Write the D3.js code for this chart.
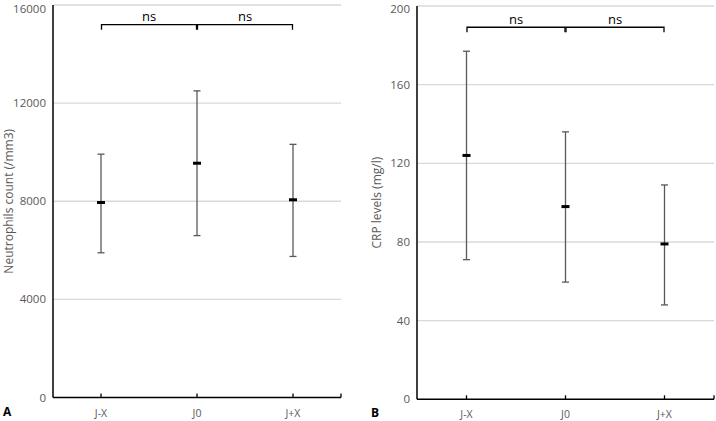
<!doctype html>
<html>
<head>
<meta charset="utf-8">
<script src="https://cdn.jsdelivr.net/npm/d3@7"></script>
<style>
  body { margin: 0; background: #fff; }
  svg { display: block; font-family: "Open Sans", sans-serif; }
  .grid line { stroke: #d9d9d9; stroke-width: 1.3; }
  .tick-label { fill: #595959; font-size: 11.5px; }
  .cat-label { fill: #595959; font-size: 10.5px; }
  .axis-title { fill: #595959; font-size: 12px; }
</style>
</head>
<body>
<svg id="chart" width="716" height="421"></svg>
<script>
  var categories = ['J-X', 'J0', 'J+X'];

  var neutroMean = [7950, 9550, 8060];
  var neutroLow = [5900, 6600, 5750];
  var neutroHigh = [9920, 12500, 10320];
  var neutroTicks = [0, 4000, 8000, 12000, 16000];

  var crpMean = [124, 98, 79];
  var crpLow = [71, 59.6, 48];
  var crpHigh = [177, 136, 109];
  var crpTicks = [0, 40, 80, 120, 160, 200];

  // significance brackets: pairs of category indices and label
  var brackets = [[0, 1, 'ns'], [1, 2, 'ns']];

  var svg = d3.select('#chart');

  function panel(opts) {
    var g = svg.append('g');
    var x = d3.scaleBand().domain(categories).range([opts.x0, opts.x1]);
    var y = d3.scaleLinear().domain([0, opts.ticks[opts.ticks.length - 1]]).range([opts.y0, opts.y1]);

    // gridlines
    g.append('g').attr('class', 'grid').selectAll('line')
      .data(opts.ticks.slice(1)).enter().append('line')
      .attr('x1', opts.x0).attr('x2', opts.x1)
      .attr('y1', function (d) { return y(d); }).attr('y2', function (d) { return y(d); });

    // tick labels (top one nudged down so it is not clipped)
    g.selectAll('text.tick-label').data(opts.ticks).enter().append('text')
      .attr('class', 'tick-label')
      .attr('x', opts.x0 - 7)
      .attr('y', function (d) { return Math.max(y(d), 8.5); })
      .attr('dy', '0.35em')
      .attr('text-anchor', 'end')
      .text(function (d) { return d; });

    // axes
    g.append('line').attr('x1', opts.x0).attr('x2', opts.x0)
      .attr('y1', y.range()[1]).attr('y2', opts.y0)
      .attr('stroke', '#000').attr('stroke-width', 1.5);
    g.append('line').attr('x1', opts.x0).attr('x2', opts.x1)
      .attr('y1', opts.y0).attr('y2', opts.y0)
      .attr('stroke', '#000').attr('stroke-width', 1.5);

    var cx = function (c) { return x(c) + x.bandwidth() / 2; };
    var tickXs = categories.map(cx).concat([opts.x1]);
    g.selectAll('line.xtick').data(tickXs).enter().append('line')
      .attr('class', 'xtick')
      .attr('x1', function (d) { return d; }).attr('x2', function (d) { return d; })
      .attr('y1', opts.y0).attr('y2', opts.y0 - 4)
      .attr('stroke', '#000').attr('stroke-width', 1.3);

    g.selectAll('text.cat-label').data(categories).enter().append('text')
      .attr('class', 'cat-label')
      .attr('x', cx).attr('y', opts.y0 + 19)
      .attr('text-anchor', 'middle')
      .text(function (d) { return d; });

    // error bars
    var bars = g.selectAll('g.bar').data(categories).enter().append('g');
    bars.append('line')
      .attr('x1', cx).attr('x2', cx)
      .attr('y1', function (d, i) { return y(opts.low[i]); })
      .attr('y2', function (d, i) { return y(opts.high[i]); })
      .attr('stroke', '#595959').attr('stroke-width', 1.3);
    [opts.low, opts.high].forEach(function (arr) {
      bars.append('line')
        .attr('x1', function (d) { return cx(d) - 3.5; })
        .attr('x2', function (d) { return cx(d) + 3.5; })
        .attr('y1', function (d, i) { return y(arr[i]); })
        .attr('y2', function (d, i) { return y(arr[i]); })
        .attr('stroke', '#595959').attr('stroke-width', 1.3);
    });
    bars.append('line')
      .attr('x1', function (d) { return cx(d) - 4; })
      .attr('x2', function (d) { return cx(d) + 4; })
      .attr('y1', function (d, i) { return y(opts.mean[i]); })
      .attr('y2', function (d, i) { return y(opts.mean[i]); })
      .attr('stroke', '#000').attr('stroke-width', 3);

    // brackets
    var by = y(opts.bracket);
    brackets.forEach(function (b) {
      var xa = cx(categories[b[0]]), xb = cx(categories[b[1]]);
      g.append('path')
        .attr('d', 'M' + (xa + 0.5) + ',' + (by + 5) + 'V' + by + 'H' + (xb - 0.5) + 'V' + (by + 5))
        .attr('fill', 'none').attr('stroke', '#000').attr('stroke-width', 1.3);
      g.append('text')
        .attr('x', (xa + xb) / 2).attr('y', by - 3.5)
        .attr('text-anchor', 'middle')
        .attr('font-size', '13px').attr('fill', '#000')
        .text(b[2]);
    });

    // titles
    g.append('text').attr('class', 'axis-title')
      .attr('transform', 'translate(' + opts.titleX + ',' + ((opts.y0 + y.range()[1]) / 2) + ') rotate(-90)')
      .attr('text-anchor', 'middle')
      .text(opts.title);

    g.append('text')
      .attr('x', opts.letterX).attr('y', opts.y0 + 18)
      .attr('font-size', '12px').attr('font-weight', 'bold').attr('fill', '#000')
      .text(opts.letter);
  }

  panel({
    x0: 53, x1: 341, y0: 397.5, y1: 5,
    ticks: neutroTicks, mean: neutroMean, low: neutroLow, high: neutroHigh,
    bracket: 15200, title: 'Neutrophils count (/mm3)', titleX: 13,
    letter: 'A', letterX: 3
  });

  panel({
    x0: 417, x1: 714, y0: 399.3, y1: 6,
    ticks: crpTicks, mean: crpMean, low: crpLow, high: crpHigh,
    bracket: 189.2, title: 'CRP levels (mg/l)', titleX: 381,
    letter: 'B', letterX: 371
  });
</script>
</body>
</html>
